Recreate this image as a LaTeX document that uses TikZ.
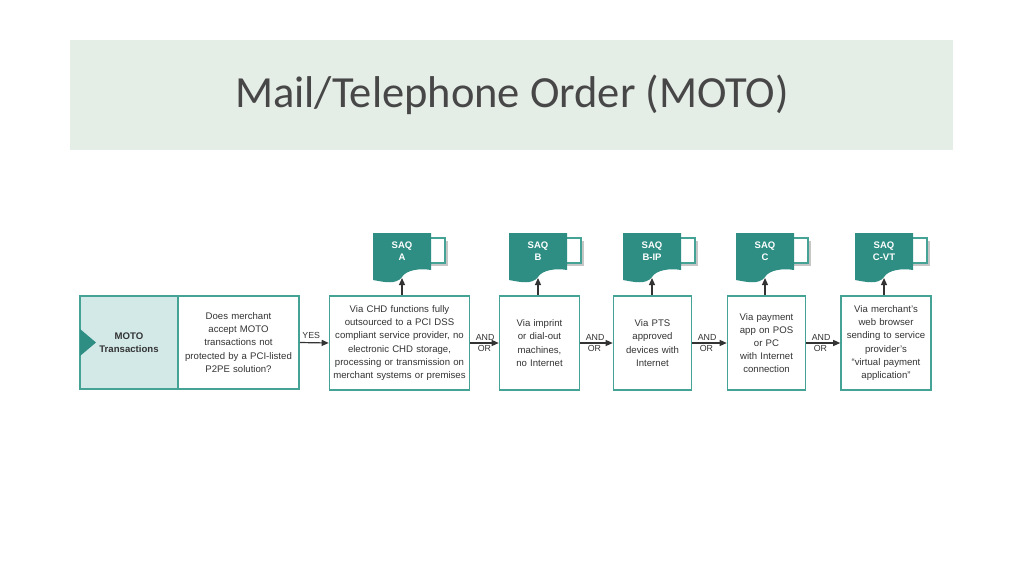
\documentclass[tikz,border=0pt]{standalone}
\usepackage{fontspec}
\setmainfont{Liberation Sans}
\newfontfamily\titlefont{Carlito}
\usetikzlibrary{arrows.meta}
\definecolor{teal1}{HTML}{2E8E84}
\definecolor{tealb}{HTML}{45A396}
\definecolor{lteal}{HTML}{D3E9E8}
\definecolor{hdr}{HTML}{E5EDE7}
\definecolor{txt}{HTML}{333333}
\begin{document}
\begin{tikzpicture}[x=1pt,y=-1pt,
  box/.style={draw=tealb,line width=1.6pt,fill=white,inner sep=1pt,align=center,
    font=\fontsize{9.6}{13.2}\selectfont,text=txt},
  doclbl/.style={font=\bfseries\fontsize{9.5}{12}\selectfont,text=white,align=center,minimum width=56pt,minimum height=36pt,inner sep=0pt},
  arr/.style={-{Triangle[length=7pt,width=6pt]},line width=1.2pt,draw=txt},
  lbl/.style={font=\fontsize{8.8}{10}\selectfont,text=txt}]
\useasboundingbox (0,0) rectangle (1024,576);
\fill[hdr] (70,40) rectangle (953,150);
\node[font=\titlefont\fontsize{44.5}{52}\selectfont,text=txt!90] (title) at (512,95) {Mail/Telephone Order (MOTO)};
% boxes
\node[box,fill=lteal,minimum width=98pt,minimum height=93pt,font=\bfseries\fontsize{9.6}{13}\selectfont] (moto) at (129,342.5) {MOTO\\Transactions};
\fill[teal1] (80,329) -- (96,342.5) -- (80,356) -- cycle;
\node[box,minimum width=121pt,minimum height=93pt,text width=119pt] (q) at (238.5,342.5) {Does merchant\\accept MOTO\\transactions not\\protected by a PCI-listed\\P2PE solution?};
\node[box,minimum width=139pt,minimum height=94pt,text width=138pt] (ba) at (399.5,343) {Via CHD functions fully\\outsourced to a PCI DSS\\compliant service provider, no\\electronic CHD storage,\\processing or transmission on\\merchant systems or premises};
\node[box,minimum width=79pt,minimum height=94pt,text width=78pt] (bb) at (539.5,343) {Via imprint\\or dial-out\\machines,\\no Internet};
\node[box,minimum width=77pt,minimum height=94pt,text width=76pt] (bbip) at (652.5,343) {Via PTS\\approved\\devices with\\Internet};
\node[box,minimum width=77pt,minimum height=94pt,text width=76pt] (bc) at (766.5,343) {Via payment\\app on POS\\or PC\\with Internet\\connection};
\node[box,minimum width=88pt,minimum height=94pt,text width=88pt] (bcvt) at (886,343) {Via merchant's\\web browser\\sending to service\\provider's\\``virtual payment\\application''};
% arrows between
\draw[arr] (q.east) -- (ba.west) node[lbl,midway,above,xshift=-3pt] (yes) {YES};
\foreach \a/\b/\n in {ba/bb/1,bb/bbip/2,bbip/bc/3,bc/bcvt/4}{
  \draw[arr] (\a.east) -- (\b.west);
  \node[lbl,anchor=south west] (and\n) at ([xshift=2pt,yshift=-1pt]\a.east) {AND};
  \node[lbl,anchor=north west] (or\n) at ([xshift=4pt,yshift=1pt]\a.east) {OR};
}
% documents
\foreach \nm/\bx/\cx/\t in {dA/ba/402/{SAQ\\A},dB/bb/538/{SAQ\\B},dBIP/bbip/652/{SAQ\\B-IP},dC/bc/765/{SAQ\\C},dCVT/bcvt/884/{SAQ\\C-VT}}{
  \fill[gray!45] (\cx+29,241) rectangle (\cx+46,266);
  \draw[tealb,fill=white,line width=1.4pt] (\cx+27,238) rectangle (\cx+43,263);
  \fill[teal1] (\cx-29,233) -- (\cx+29,233) -- (\cx+29,270)
     .. controls (\cx+18,268) and (\cx+4,270) .. (\cx,277)
     .. controls (\cx-6,285) and (\cx-18,282) .. (\cx-29,280) -- cycle;
  \node[doclbl,anchor=north] (\nm) at (\cx,233) {\t};
  \draw[arr] (\bx.north -| \nm.south) -- (\cx,278);
}
\end{tikzpicture}
\end{document}
